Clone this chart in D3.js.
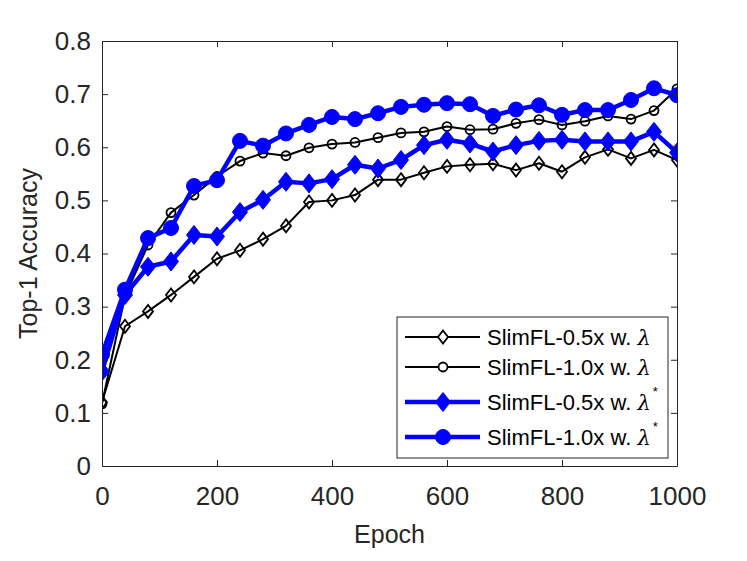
<!DOCTYPE html>
<html>
<head>
<meta charset="utf-8">
<script src="https://cdn.jsdelivr.net/npm/d3@7"></script>
<style>
  body { margin: 0; background: #fff; }
  svg { display: block; font-family: "Liberation Sans", Arial, Helvetica, sans-serif; }
</style>
</head>
<body>
<svg id="chart"></svg>
<script>
// epochs sampled every 40
const epochs = [0, 40, 80, 120, 160, 200, 240, 280, 320, 360, 400, 440, 480,
    520, 560, 600, 640, 680, 720, 760, 800, 840, 880, 920, 960, 1000];

const slim05 = [0.12, 0.263, 0.291, 0.322, 0.356, 0.39, 0.406, 0.427, 0.452, 0.497, 0.5, 0.51, 0.539,
    0.539, 0.552, 0.564, 0.567, 0.569, 0.557, 0.57, 0.554, 0.581, 0.596, 0.579, 0.595, 0.576];
const slim10 = [0.117, 0.32, 0.416, 0.477, 0.51, 0.545, 0.574, 0.589, 0.584, 0.599, 0.606, 0.609, 0.618,
    0.627, 0.629, 0.639, 0.633, 0.634, 0.645, 0.652, 0.642, 0.649, 0.659, 0.653, 0.669, 0.71];
const slim05Star = [0.178, 0.322, 0.375, 0.385, 0.435, 0.432, 0.478, 0.501, 0.535, 0.532, 0.54, 0.567, 0.56,
    0.576, 0.604, 0.614, 0.607, 0.592, 0.604, 0.612, 0.614, 0.611, 0.611, 0.611, 0.629, 0.59];
const slim10Star = [0.21, 0.332, 0.429, 0.448, 0.527, 0.538, 0.612, 0.603, 0.626, 0.642, 0.657, 0.653, 0.664,
    0.676, 0.68, 0.683, 0.681, 0.659, 0.671, 0.679, 0.661, 0.67, 0.67, 0.689, 0.711, 0.698];

const xTicks = [0, 200, 400, 600, 800, 1000];
const yTicks = [0, 0.1, 0.2, 0.3, 0.4, 0.5, 0.6, 0.7, 0.8];

const series = [
    { name: "SlimFL-0.5x w. ", star: false, values: slim05, color: "#000", width: 2, marker: "diamond", filled: false },
    { name: "SlimFL-1.0x w. ", star: false, values: slim10, color: "#000", width: 2, marker: "circle", filled: false },
    { name: "SlimFL-0.5x w. ", star: true, values: slim05Star, color: "#0000ff", width: 4.5, marker: "diamond", filled: true },
    { name: "SlimFL-1.0x w. ", star: true, values: slim10Star, color: "#0000ff", width: 4.5, marker: "circle", filled: true }
];

const W = 747, H = 561;
const margin = { top: 41, right: 70, bottom: 95, left: 102 };
const width = W - margin.left - margin.right;
const height = H - margin.top - margin.bottom;
const axisColor = "#262626";

const svg = d3.select("#chart").attr("width", W).attr("height", H);

svg.append("defs").append("clipPath").attr("id", "plotclip")
    .append("rect").attr("width", width).attr("height", height);

const g = svg.append("g").attr("transform", `translate(${margin.left},${margin.top})`);

const x = d3.scaleLinear().domain([0, 1000]).range([0, width]);
const y = d3.scaleLinear().domain([0, 0.8]).range([height, 0]);

// marker shapes
function markerPath(type, filled) {
    if (type === "diamond") {
        const hw = filled ? 7.5 : 5, hh = filled ? 9.5 : 6.5;
        return `M0,${-hh}L${hw},0L0,${hh}L${-hw},0Z`;
    }
    const r = filled ? 7.5 : 4.5;
    return `M${r},0A${r},${r} 0 1,1 ${-r},0A${r},${r} 0 1,1 ${r},0Z`;
}

// data layers
const plot = g.append("g").attr("clip-path", "url(#plotclip)");
const line = d3.line().x((d, i) => x(epochs[i])).y(d => y(d));

series.forEach(s => {
    plot.append("path")
        .datum(s.values)
        .attr("fill", "none")
        .attr("stroke", s.color)
        .attr("stroke-width", s.width)
        .attr("stroke-linejoin", "round")
        .attr("d", line);

    plot.selectAll(null)
        .data(s.values)
        .enter().append("path")
        .attr("transform", (d, i) => `translate(${x(epochs[i])},${y(d)})`)
        .attr("d", markerPath(s.marker, s.filled))
        .attr("fill", s.filled ? s.color : "none")
        .attr("stroke", s.color)
        .attr("stroke-width", s.filled ? 1 : 1.8);
});

// axes, ticks pointing inward
const fontTick = 26;
const xAxis = g.append("g")
    .attr("transform", `translate(0,${height})`)
    .call(d3.axisBottom(x).tickValues(xTicks).tickFormat(d3.format("d"))
        .tickSizeInner(-6).tickSizeOuter(0).tickPadding(21));
const yAxis = g.append("g")
    .call(d3.axisLeft(y).tickValues(yTicks).tickFormat(d => d === 0 ? "0" : d3.format(".1f")(d))
        .tickSizeInner(-6).tickSizeOuter(0).tickPadding(11));
const topAxis = g.append("g")
    .call(d3.axisTop(x).tickValues(xTicks).tickSizeInner(-6).tickSizeOuter(0).tickFormat(""));
const rightAxis = g.append("g")
    .attr("transform", `translate(${width},0)`)
    .call(d3.axisRight(y).tickValues(yTicks).tickSizeInner(-6).tickSizeOuter(0).tickFormat(""));

[xAxis, yAxis, topAxis, rightAxis].forEach(a => {
    a.selectAll("path, line").attr("stroke", axisColor).attr("stroke-width", 1);
    a.selectAll("text").attr("fill", axisColor).style("font-size", fontTick + "px")
        .style("font-family", "'Liberation Sans', Arial, sans-serif");
});

// axis labels
g.append("text")
    .attr("x", width / 2).attr("y", 502)
    .attr("text-anchor", "middle")
    .attr("fill", axisColor)
    .style("font-size", "25px")
    .text("Epoch");

g.append("text")
    .attr("transform", `translate(${37 - margin.left},${height / 2}) rotate(-90)`)
    .attr("text-anchor", "middle")
    .attr("fill", axisColor)
    .style("font-size", "25px")
    .text("Top-1 Accuracy");

// legend
const legend = svg.append("g").attr("transform", "translate(397,317)");
legend.append("rect")
    .attr("width", 271).attr("height", 141)
    .attr("fill", "#fff").attr("stroke", axisColor).attr("stroke-width", 1);

const rowY = [20, 50, 85, 120];
series.forEach((s, i) => {
    const row = legend.append("g").attr("transform", `translate(0,${rowY[i]})`);
    row.append("line")
        .attr("x1", 8).attr("x2", 83)
        .attr("stroke", s.color).attr("stroke-width", s.width);
    row.append("path")
        .attr("transform", "translate(46,0)")
        .attr("d", markerPath(s.marker, s.filled))
        .attr("fill", s.filled ? s.color : "#fff")
        .attr("stroke", s.color)
        .attr("stroke-width", s.filled ? 1 : 1.8);
    const t = row.append("text")
        .attr("x", 90).attr("y", 8)
        .attr("fill", "#000")
        .style("font-size", "22px");
    t.append("tspan").text(s.name);
    t.append("tspan").style("font-style", "italic").style("font-family", "'DejaVu Serif', serif")
        .style("font-size", "21px").text("λ");
    if (s.star) {
        t.append("tspan").attr("dx", 2).attr("dy", -14).style("font-size", "13px").text("*");
    }
});
</script>
</body>
</html>
